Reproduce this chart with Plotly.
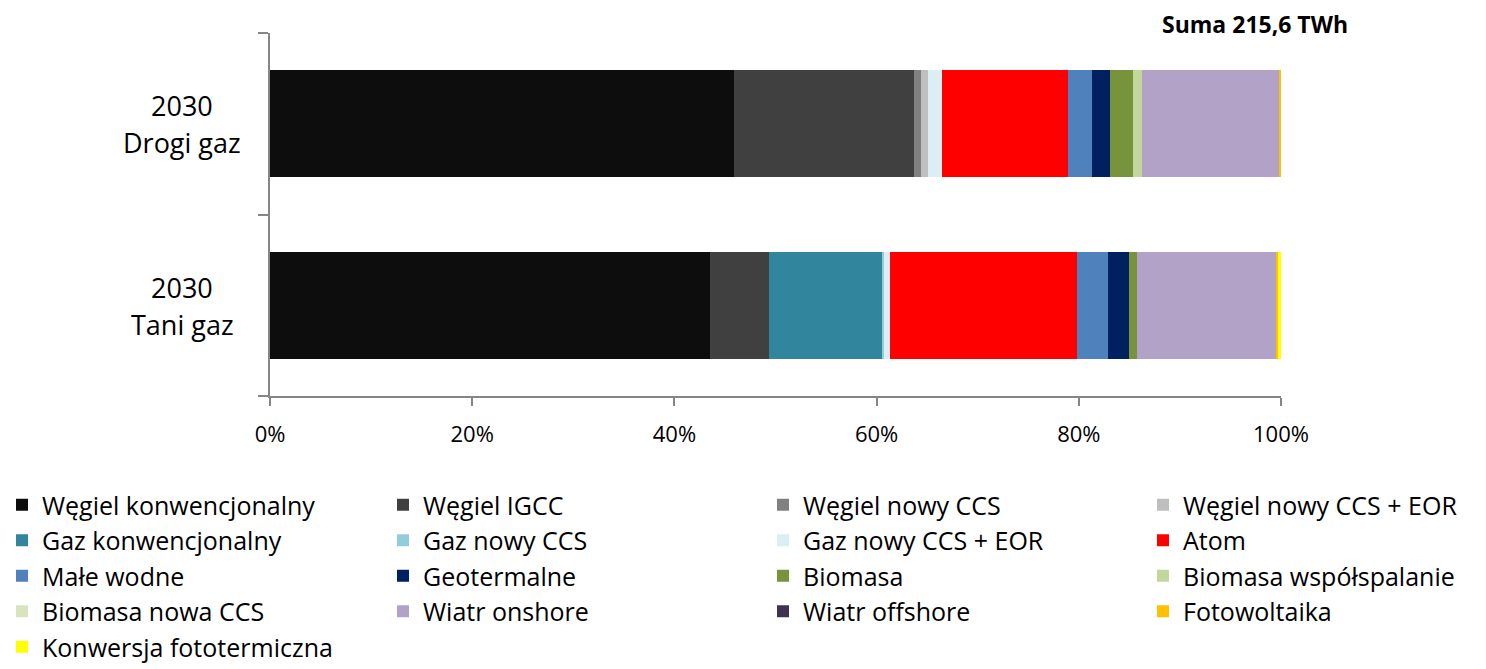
import plotly.graph_objects as go

# Udział technologii w produkcji energii elektrycznej w 2030 r. (%)
scenarios = ["Tani gaz", "Drogi gaz"]
scenario_years = {"Drogi gaz": "2030", "Tani gaz": "2030"}

technologies = [
    "Węgiel konwencjonalny", "Węgiel IGCC", "Węgiel nowy CCS", "Węgiel nowy CCS + EOR",
    "Gaz konwencjonalny", "Gaz nowy CCS", "Gaz nowy CCS + EOR", "Atom",
    "Małe wodne", "Geotermalne", "Biomasa", "Biomasa współspalanie",
    "Biomasa nowa CCS", "Wiatr onshore", "Wiatr offshore", "Fotowoltaika",
    "Konwersja fototermiczna",
]

share_drogi_gaz = [45.9, 17.8, 0.7, 0.7, 0.0, 0.0, 1.4, 12.4, 2.4, 1.8, 2.3, 0.9, 0.0, 13.6, 0.0, 0.1, 0.1]
share_tani_gaz = [43.5, 5.9, 0.0, 0.0, 11.1, 0.2, 0.6, 18.5, 3.1, 2.1, 0.8, 0.0, 0.0, 13.7, 0.0, 0.2, 0.3]

colors = [
    "#0D0D0D", "#404040", "#808080", "#BFBFBF",
    "#31859C", "#93CDDD", "#DAEEF3", "#FF0000",
    "#4F81BD", "#002060", "#77933C", "#C3D69B",
    "#D7E4BD", "#B3A2C7", "#403152", "#FFC000",
    "#FFFF00",
]

x_ticks = [0, 20, 40, 60, 80, 100]
x_tick_text = ["0%", "20%", "40%", "60%", "80%", "100%"]
total_label = "Suma 215,6 TWh"

FONT = "'Open Sans', Lato, sans-serif"
W, H = 1486, 669
M_L, M_R, M_T, M_B = 270, 205, 33, 273
PLOT_W = W - M_L - M_R
PLOT_H = H - M_T - M_B

# legend laid out in four columns, filled row by row
LEGEND_COLS = 4
legend_names = ["legend", "legend2", "legend3", "legend4"]
legend_col_x = [2, 383, 763, 1143]
legend_top = 482


def px_x(px):
    return (px - M_L) / PLOT_W


def px_y(py):
    return (H - M_B - py) / PLOT_H


fig = go.Figure()
for i, tech in enumerate(technologies):
    fig.add_trace(go.Bar(
        name=tech,
        orientation="h",
        y=scenarios,
        x=[share_tani_gaz[i], share_drogi_gaz[i]],
        marker=dict(color=colors[i], line=dict(width=0)),
        legend=legend_names[i % LEGEND_COLS],
        legendgroup=f"g{i}",
        hoverinfo="name+x",
    ))

for s in scenarios:
    fig.add_annotation(
        text=scenario_years[s], xref="paper", yref="y",
        x=px_x(182), y=s, yshift=18, xanchor="center", yanchor="middle",
        showarrow=False, font=dict(family=FONT, size=27, color="#000000"),
    )
    fig.add_annotation(
        text=s, xref="paper", yref="y",
        x=px_x(182), y=s, yshift=-19, xanchor="center", yanchor="middle",
        showarrow=False, font=dict(family=FONT, size=27, color="#000000"),
    )

fig.add_annotation(
    text=f"<b>{total_label}</b>", xref="paper", yref="paper",
    x=px_x(1255), y=px_y(24), xanchor="center", yanchor="middle",
    showarrow=False, font=dict(family=FONT, size=23, color="#000000"),
)

legend_style = dict(
    orientation="v", traceorder="normal",
    xref="container", yref="container",
    yanchor="top", xanchor="left",
    tracegroupgap=4,
    bgcolor="rgba(0,0,0,0)",
    font=dict(family=FONT, size=25, color="#000000"),
    itemclick=False, itemdoubleclick=False,
)
legends = {}
for name, lx in zip(legend_names, legend_col_x):
    legends[name] = dict(legend_style, x=lx / W, y=1 - legend_top / H)

fig.update_layout(
    width=W, height=H,
    barmode="stack", bargap=0.41,
    plot_bgcolor="#FFFFFF", paper_bgcolor="#FFFFFF",
    margin=dict(l=M_L, r=M_R, t=M_T, b=M_B, pad=0, autoexpand=False),
    font=dict(family=FONT, color="#000000"),
    xaxis=dict(
        range=[0, 100], tickmode="array", tickvals=x_ticks, ticktext=x_tick_text,
        showgrid=False, zeroline=False, automargin=False, tickangle=0,
        showline=True, linecolor="#868686", linewidth=2,
        ticks="outside", ticklen=8, tickcolor="#868686", tickwidth=2,
        tickfont=dict(family=FONT, size=22), ticklabelstandoff=10,
    ),
    yaxis=dict(
        type="category", categoryorder="array", categoryarray=scenarios,
        range=[-0.5, 1.5], showticklabels=False, showgrid=False, zeroline=False,
        automargin=False,
        showline=True, linecolor="#868686", linewidth=2,
        ticks="outside", tickson="boundaries", ticklen=10, tickcolor="#868686", tickwidth=2,
    ),
    showlegend=True,
    **legends,
)

fig.write_html("out.html")
